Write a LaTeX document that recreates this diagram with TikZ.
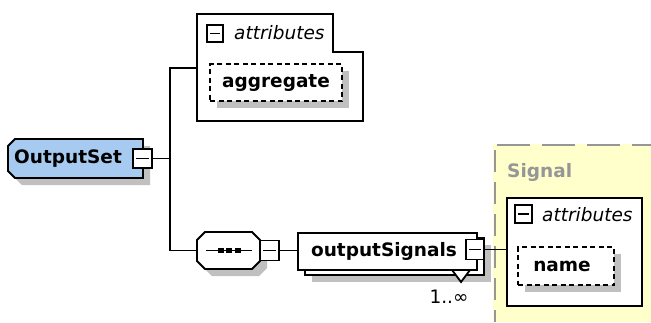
\documentclass[tikz,border=0pt]{standalone}
\usepackage{fontspec}
\setmainfont{DejaVu Sans}
\usetikzlibrary{shadows}
\definecolor{elemblue}{RGB}{166,202,240}
\definecolor{shadegray}{RGB}{192,192,192}
\definecolor{typeyellow}{RGB}{255,255,204}
\definecolor{typegray}{RGB}{150,150,150}
\newcommand{\diagfont}{\fontsize{18.5}{22}\selectfont}
\tikzset{
  every node/.style={inner sep=0pt, font=\diagfont},
  boxshadow/.style={general shadow={fill=shadegray, shadow xshift=7pt, shadow yshift=-7pt}},
  link/.style={line width=1.8pt},
  element/.style={draw, line width=1.8pt, fill=white},
  attrbox/.style={draw, line width=1.8pt, dash pattern=on 5pt off 3.5pt, fill=white, boxshadow, font=\diagfont\bfseries},
  minusbox/.style={draw, fill=white, line width=1.8pt,
    path picture={\draw[line width=1.8pt] ([xshift=3pt]path picture bounding box.west) -- ([xshift=-3pt]path picture bounding box.east);}},
}
\begin{document}
\begin{tikzpicture}[x=1pt,y=-1pt]
\useasboundingbox (0,0) rectangle (651,322);
\fill[white] (0,0) rectangle (651,322);

% complex type area of Signal
\node[fill=typeyellow, minimum width=158pt, minimum height=178pt, anchor=north west] (signaltype) at (493,144) {};
\draw[typegray, line width=1.8pt, dash pattern=on 33pt off 12pt] (497,145) -- (651,145);
\draw[typegray, line width=1.8pt, dash pattern=on 22pt off 10pt] (495,150) -- (495,322);
\node[anchor=west, text=typegray, font=\diagfont\bfseries] (signallabel) at (507,172) {Signal};

% root element, bevelled on its left side
\draw[element, fill=elemblue, boxshadow] (15,139) -- (143,139) -- (143,178) -- (15,178) -- (8,171) -- (8,146) -- cycle;
\node[font=\diagfont\bfseries] (outputset) at (68,158.5) {OutputSet};
\node[minusbox, minimum width=19pt, minimum height=19pt] (osminus) at (142.5,158.5) {};

% attributes of OutputSet
\draw[element] (197,14) -- (333,14) -- (333,52) -- (363,52) -- (363,121) -- (197,121) -- cycle;
\coordinate (attrsin) at (197,68);
\node[minusbox, minimum width=16pt, minimum height=17pt] (attrsminus) at (215,33.5) {};
\node[anchor=west, font=\diagfont\itshape] (attrslabel) at (234,33) {attributes};
\node[attrbox, minimum width=132pt, minimum height=37pt] (aggregate) at (276,82.5) {aggregate};

% sequence compositor (octagon)
\draw[element, boxshadow] (205,232) -- (252,232) -- (260,240) -- (260,261) -- (252,269)
      -- (205,269) -- (197,261) -- (197,240) -- cycle;
\coordinate (seq) at (197,250.5);
\draw[link] (206,250.5) coordinate (seqa) -- (252,250.5) coordinate (seqb);
\foreach \dx in {221,229,238} \fill (\dx-2.8,247.7) rectangle (\dx+2.8,253.3);
\node[minusbox, minimum width=19pt, minimum height=20pt] (seqminus) at (269.5,250.5) {};

% outputSignals element (repeating)
\node[element, boxshadow, minimum width=179pt, minimum height=37pt] (sigback) at (394.5,256.5) {};
\draw[link, fill=white] (452,270) -- (461,282) -- (470,270);
\node[element, minimum width=179pt, minimum height=37pt, font=\diagfont\bfseries] (sigmain) at (387.5,251.5) {\hspace*{-7pt}outputSignals};
\node[minusbox, minimum width=18pt, minimum height=20pt] (sigminus) at (475,249.5) {};
\node (mult) at (449,297) {1..∞};

% attributes of Signal
\node[element, minimum width=135pt, minimum height=108pt, anchor=north west] (sigattrs) at (506,197) {};
\node[minusbox, minimum width=17pt, minimum height=18pt] (sigattrsminus) at (523.5,214) {};
\node[anchor=west, font=\diagfont\itshape] (sigattrslabel) at (542,215) {attributes};
\node[attrbox, minimum width=96pt, minimum height=38pt] (name) at (566,266) {\hspace*{-8pt}name};

% connectors
\coordinate (fork) at (170,158.5);
\draw[link] (osminus.east) -- (fork);
\draw[link] (fork) |- (attrsin);
\draw[link] (fork) |- (seq);
\draw[link] (seqminus.east) -- (seqminus.east -| sigmain.west);
\draw[link] (sigminus.east) -- (sigminus.east -| sigattrs.west);
\end{tikzpicture}
\end{document}
